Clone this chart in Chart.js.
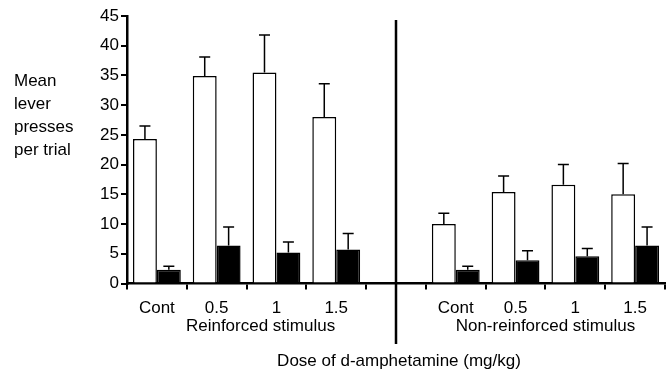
<!DOCTYPE html>
<html>
<head>
<meta charset="utf-8">
<script src="https://cdn.jsdelivr.net/npm/chart.js@4"></script>
<style>
  html, body { margin: 0; padding: 0; background: #fff; }
  #wrap { width: 670px; height: 371px; }
</style>
</head>
<body>
<div id="wrap"><canvas id="grafico" width="670" height="371"></canvas></div>
<script>
// 4 doses reinforced, empty gap slot, 4 doses non-reinforced
const categorias = ['Cont', '0.5', '1', '1.5', '', 'Cont', '0.5', '1', '1.5']
const brancas = [24.3, 34.9, 35.5, 28.0, null, 10.0, 15.4, 16.6, 15.0]
const brancasErro = [2.2, 3.2, 6.3, 5.6, null, 1.8, 2.7, 3.4, 5.2]
const pretas = [2.3, 6.4, 5.2, 5.7, null, 2.3, 3.9, 4.6, 6.4]
const pretasErro = [0.6, 3.1, 1.8, 2.7, null, 0.6, 1.6, 1.3, 3.1]
const grupos = ['Reinforced stimulus', 'Non-reinforced stimulus']
const tituloX = 'Dose of d-amphetamine (mg/kg)'
const tituloY = ['Mean', 'lever', 'presses', 'per trial']

const fonte = 'Liberation Sans, Arial, sans-serif'

const barrasErro = {
    id: 'barrasErro',
    afterDatasetsDraw(chart) {
        const ctx = chart.ctx
        const y = chart.scales.y
        const erros = [brancasErro, pretasErro]
        ctx.save()
        ctx.strokeStyle = '#000'
        ctx.lineWidth = 1.5
        chart.data.datasets.forEach((ds, i) => {
            chart.getDatasetMeta(i).data.forEach((bar, j) => {
                if (ds.data[j] == null) return
                const topo = y.getPixelForValue(ds.data[j] + erros[i][j])
                ctx.beginPath()
                ctx.moveTo(bar.x, bar.y)
                ctx.lineTo(bar.x, topo)
                ctx.moveTo(bar.x - 5.5, topo)
                ctx.lineTo(bar.x + 5.5, topo)
                ctx.stroke()
            })
        })
        ctx.restore()
    }
}

const textos = {
    id: 'textos',
    afterDraw(chart) {
        const ctx = chart.ctx
        const x = chart.scales.x
        ctx.save()
        // divider between the two stimulus groups
        const meio = x.getPixelForValue(4)
        ctx.strokeStyle = '#000'
        ctx.lineWidth = 2.5
        ctx.beginPath()
        ctx.moveTo(meio, 20)
        ctx.lineTo(meio, 344)
        ctx.stroke()

        ctx.fillStyle = '#000'
        ctx.font = '17px ' + fonte
        ctx.textAlign = 'center'
        ctx.textBaseline = 'middle'
        const c1 = (x.getPixelForValue(1) + x.getPixelForValue(2)) / 2 + 14
        const c2 = (x.getPixelForValue(6) + x.getPixelForValue(7)) / 2
        ctx.fillText(grupos[0], c1, 326)
        ctx.fillText(grupos[1], c2, 326)
        ctx.fillText(tituloX, 399, 361)

        ctx.textAlign = 'left'
        tituloY.forEach((t, i) => ctx.fillText(t, 14, 81 + i * 23))
        ctx.restore()
    }
}

const ctx = document.getElementById('grafico').getContext('2d')

const grafico = new Chart(ctx, {
    type: 'bar',
    data: {
        labels: categorias,
        datasets: [{
            data: brancas,
            backgroundColor: '#fff',
            borderColor: '#000',
            borderWidth: 1.5,
            borderSkipped: 'bottom'
        }, {
            data: pretas,
            backgroundColor: '#000',
            borderColor: '#000',
            borderWidth: 1.5,
            borderSkipped: 'bottom'
        }]
    },
    options: {
        responsive: false,
        animation: false,
        devicePixelRatio: 1,
        layout: { padding: { top: 16, right: 5, left: 0, bottom: 0 } },
        plugins: { legend: { display: false }, tooltip: { enabled: false } },
        datasets: { bar: { categoryPercentage: 0.8, barPercentage: 1 } },
        scales: {
            x: {
                grid: { drawOnChartArea: false, drawTicks: true, tickLength: 6, color: '#000', lineWidth: 2, offset: true },
                border: { color: '#000', width: 2.5 },
                ticks: { color: '#000', font: { family: fonte, size: 17 }, padding: 9, maxRotation: 0, autoSkip: false },
                afterFit(scale) { scale.height = 87.5 }
            },
            y: {
                min: 0,
                max: 45,
                grid: { drawOnChartArea: false, drawTicks: true, tickLength: 6, color: '#000', lineWidth: 2 },
                border: { color: '#000', width: 2.5 },
                ticks: { stepSize: 5, color: '#000', font: { family: fonte, size: 17 }, padding: 2 },
                afterFit(scale) { scale.width = 127 }
            }
        }
    },
    plugins: [barrasErro, textos]
})
</script>
</body>
</html>
